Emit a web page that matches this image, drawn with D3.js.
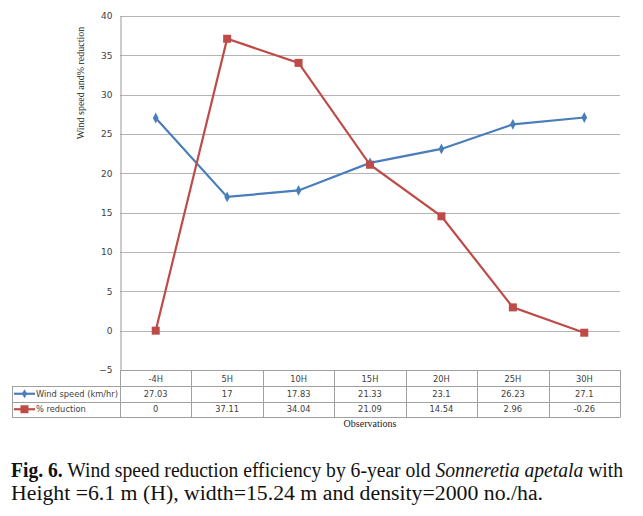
<!DOCTYPE html>
<html><head><meta charset="utf-8">
<script src="https://cdn.jsdelivr.net/npm/d3@7"></script>
<style>body{margin:0;background:#fff}svg{display:block}</style>
</head><body>
<script>
const categories = ["-4H","5H","10H","15H","20H","25H","30H"];
const windSpeed = [27.03,17,17.83,21.33,23.1,26.23,27.1];
const reduction = [0,37.11,34.04,21.09,14.54,2.96,-0.26];
const yTicks = [-5,0,5,10,15,20,25,30,35,40];
const seriesNames = ["Wind speed (km/hr)","% reduction"];
const tableRows = [windSpeed.map(String), reduction.map(String)];

const W=643,H=516;
const svg=d3.select("body").append("svg").attr("width",W).attr("height",H);
const L=120,R=620,T=16,B=370;
const x=d3.scaleBand().domain(categories).range([L,R]).padding(0);
const y=d3.scaleLinear().domain([-5,40]).range([B,T]);
const cx=d=>x(d)+x.bandwidth()/2;
const blue="#4a7ebb", red="#be4b48", grid="#b4b4b4", tc="#404040";

// gridlines
svg.append("g").selectAll("line").data(yTicks).join("line")
 .attr("x1",L).attr("x2",R).attr("y1",d=>Math.round(y(d))+0.5).attr("y2",d=>Math.round(y(d))+0.5)
 .attr("stroke",grid).attr("stroke-width",1.2);
// y axis
const ya=svg.append("g").attr("transform",`translate(${L+0.5},0)`)
 .call(d3.axisLeft(y).tickValues(yTicks).tickSize(0).tickPadding(8));
ya.select(".domain").attr("stroke","#999");
ya.selectAll("text").attr("font-family","DejaVu Sans").attr("font-size",9).attr("fill",tc);

// y title
svg.append("text").attr("transform","translate(84,83) rotate(-90)").attr("text-anchor","middle")
 .attr("font-family","Liberation Serif").attr("font-size",10).attr("fill","#222")
 .text("Wind speed and% reduction");

// lines
const line=d3.line().x((d,i)=>cx(categories[i])).y(d=>y(d));
svg.append("path").datum(windSpeed).attr("d",line).attr("fill","none").attr("stroke",blue).attr("stroke-width",2.2);
svg.append("path").datum(reduction).attr("d",line).attr("fill","none").attr("stroke",red).attr("stroke-width",2.2);
svg.append("g").selectAll("path").data(windSpeed).join("path")
 .attr("d",d3.symbol(d3.symbolDiamond,28)).attr("fill",blue)
 .attr("transform",(d,i)=>`translate(${cx(categories[i])},${y(d)}) scale(1,1.1)`);
svg.append("g").selectAll("rect").data(reduction).join("rect")
 .attr("x",(d,i)=>cx(categories[i])-4).attr("y",d=>y(d)-4).attr("width",8).attr("height",8).attr("fill",red);

// table
const rowY=[370,386,401.5,417];
const tg=svg.append("g").attr("stroke","#a0a0a0").attr("stroke-width",1);
rowY.forEach((ry,i)=>{
  tg.append("line").attr("x1",i===0?L:12).attr("x2",R).attr("y1",Math.round(ry)+0.5).attr("y2",Math.round(ry)+0.5);
});
const colEdges=categories.map(c=>x(c)).concat([R]);
colEdges.forEach(cxp=>tg.append("line").attr("x1",Math.round(cxp)+0.5).attr("x2",Math.round(cxp)+0.5).attr("y1",370).attr("y2",417.5));
tg.append("line").attr("x1",12.5).attr("x2",12.5).attr("y1",386).attr("y2",417.5);

const tf="DejaVu Sans", tfs=8.3;
svg.append("g").selectAll("text").data(categories).join("text")
 .attr("x",d=>cx(d)).attr("y",381.5).attr("text-anchor","middle")
 .attr("font-family",tf).attr("font-size",tfs).attr("fill",tc).text(d=>d);
tableRows.forEach((row,ri)=>{
  svg.append("g").selectAll("text").data(row).join("text")
   .attr("x",(d,i)=>cx(categories[i])).attr("y",(rowY[ri+1]+rowY[ri+2])/2+3).attr("text-anchor","middle")
   .attr("font-family",tf).attr("font-size",tfs).attr("fill",tc).text(d=>d);
});
const ky=[(rowY[1]+rowY[2])/2,(rowY[2]+rowY[3])/2];
svg.append("line").attr("x1",14).attr("x2",35).attr("y1",ky[0]).attr("y2",ky[0]).attr("stroke",blue).attr("stroke-width",2.2);
svg.append("path").attr("d",d3.symbol(d3.symbolDiamond,24)).attr("fill",blue).attr("transform",`translate(24.5,${ky[0]})`);
svg.append("line").attr("x1",14).attr("x2",35).attr("y1",ky[1]).attr("y2",ky[1]).attr("stroke",red).attr("stroke-width",2.2);
svg.append("rect").attr("x",20.5).attr("y",ky[1]-4).attr("width",8).attr("height",8).attr("fill",red);
seriesNames.forEach((s,i)=>svg.append("text").attr("x",36).attr("y",ky[i]+3)
 .attr("font-family",tf).attr("font-size",tfs).attr("fill",tc).text(s));

// x title
svg.append("text").attr("x",370).attr("y",427).attr("text-anchor","middle")
 .attr("font-family","Liberation Serif").attr("font-size",10).attr("fill","#222").text("Observations");

// caption
const cap=svg.append("g").attr("font-family","Liberation Serif").attr("font-size",20).attr("fill","#111");
const t1=cap.append("text").attr("x",11).attr("y",477).attr("textLength",612).attr("lengthAdjust","spacingAndGlyphs");
t1.append("tspan").attr("font-weight","bold").text("Fig. 6.");
t1.append("tspan").text(" Wind speed reduction efficiency by 6-year old ");
t1.append("tspan").attr("font-style","italic").text("Sonneretia apetala");
t1.append("tspan").text(" with");
cap.append("text").attr("x",11).attr("y",500).attr("textLength",532).attr("lengthAdjust","spacingAndGlyphs")
 .text("Height =6.1 m (H), width=15.24 m and density=2000 no./ha.");
</script>
</body></html>
